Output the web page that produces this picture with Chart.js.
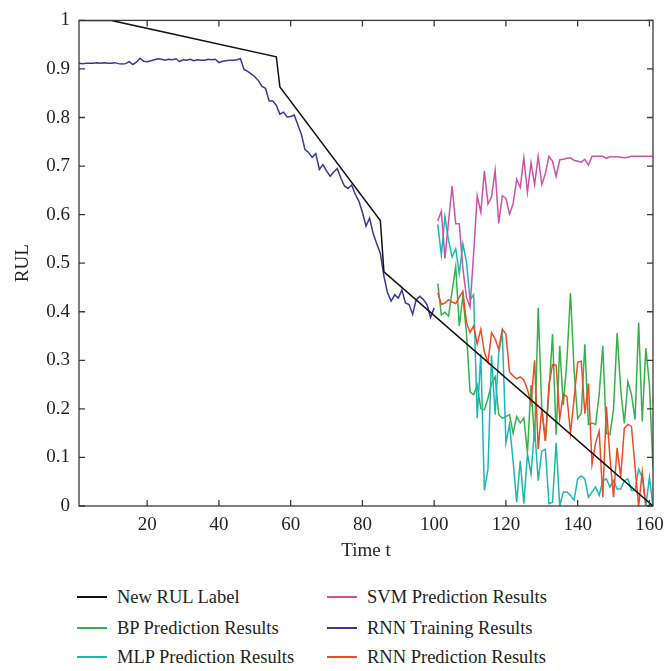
<!DOCTYPE html>
<html>
<head>
<meta charset="utf-8">
<script src="https://cdn.jsdelivr.net/npm/chart.js@4.4.1/dist/chart.umd.min.js"></script>
<style>
  html, body { margin: 0; padding: 0; background: #fff; }
  #wrap { position: relative; width: 665px; height: 671px; font-family: 'Liberation Serif', 'DejaVu Serif', serif; color: #231f20; }
  #chart { position: absolute; left: 0; top: 0; }
  .legend-item { position: absolute; display: flex; align-items: center; height: 22px; font-size: 18.5px; white-space: nowrap; }
  .legend-line { width: 30px; height: 0; border-top: 2px solid; margin-right: 10px; }
</style>
</head>
<body>
<div id="wrap">
  <canvas id="chart" width="665" height="578"></canvas>
  <div id="legend"></div>
</div>
<script>
const xTicks = [20, 40, 60, 80, 100, 120, 140, 160];

// new RUL label (piecewise linear vertices)
const labelT = [1, 10, 56, 57, 85, 86, 161];
const labelRul = [1, 1, 0.925, 0.863, 0.588, 0.482, 0];

// RNN training, t = 1..100
const trainStart = 1;
const rnnTrain = [
  0.912, 0.911, 0.912, 0.912, 0.912, 0.913, 0.912, 0.913, 0.912, 0.912,
  0.913, 0.911, 0.910, 0.911, 0.915, 0.909, 0.914, 0.922, 0.916, 0.915,
  0.917, 0.919, 0.921, 0.920, 0.918, 0.920, 0.919, 0.921, 0.915, 0.919,
  0.918, 0.920, 0.917, 0.919, 0.918, 0.918, 0.920, 0.919, 0.920, 0.913,
  0.916, 0.917, 0.918, 0.918, 0.919, 0.921, 0.899, 0.895, 0.890, 0.884,
  0.876, 0.864, 0.860, 0.834, 0.834, 0.825, 0.807, 0.811, 0.801, 0.802,
  0.805, 0.785, 0.765, 0.734, 0.728, 0.718, 0.726, 0.693, 0.703, 0.690,
  0.679, 0.688, 0.695, 0.675, 0.659, 0.654, 0.661, 0.642, 0.628, 0.605,
  0.576, 0.593, 0.561, 0.540, 0.520, 0.473, 0.439, 0.422, 0.435, 0.428,
  0.445, 0.418, 0.415, 0.395, 0.425, 0.432, 0.425, 0.415, 0.388, 0.408
];

// predictions, t = 101..161
const predStart = 101;
const svmPred = [
  0.587, 0.607, 0.510, 0.585, 0.659, 0.581, 0.581, 0.490, 0.430, 0.410,
  0.520, 0.639, 0.605, 0.690, 0.622, 0.637, 0.691, 0.582, 0.639, 0.634,
  0.601, 0.622, 0.673, 0.656, 0.717, 0.646, 0.707, 0.662, 0.720, 0.662,
  0.684, 0.720, 0.710, 0.679, 0.713, 0.714, 0.716, 0.717, 0.712, 0.710,
  0.708, 0.714, 0.702, 0.720, 0.720, 0.720, 0.720, 0.716, 0.719, 0.719,
  0.719, 0.718, 0.717, 0.718, 0.720, 0.720, 0.720, 0.720, 0.720, 0.720, 0.720
];
const bpPred = [
  0.458, 0.393, 0.399, 0.391, 0.442, 0.493, 0.371, 0.432, 0.357, 0.235,
  0.229, 0.249, 0.201, 0.198, 0.222, 0.252, 0.266, 0.188, 0.181, 0.184,
  0.188, 0.150, 0.184, 0.171, 0.181, 0.110, 0.249, 0.134, 0.408, 0.200,
  0.134, 0.235, 0.354, 0.147, 0.330, 0.208, 0.300, 0.439, 0.280, 0.180,
  0.191, 0.333, 0.168, 0.171, 0.168, 0.230, 0.330, 0.150, 0.147, 0.200,
  0.356, 0.240, 0.170, 0.256, 0.230, 0.178, 0.378, 0.174, 0.325, 0.250, 0.079
];
const mlpPred = [
  0.580, 0.517, 0.596, 0.547, 0.513, 0.530, 0.479, 0.540, 0.503, 0.425,
  0.435, 0.181, 0.313, 0.032, 0.076, 0.310, 0.188, 0.317, 0.357, 0.130,
  0.168, 0.093, 0.008, 0.093, 0.005, 0.107, 0.066, 0.160, 0.052, 0.113,
  0.117, 0.005, 0.008, 0.130, 0.000, 0.029, 0.029, 0.022, 0.012, 0.056,
  0.062, 0.056, 0.018, 0.029, 0.039, 0.022, 0.052, 0.056, 0.039, 0.052,
  0.035, 0.035, 0.052, 0.056, 0.032, 0.032, 0.076, 0.059, 0.000, 0.059, 0.000
];
const rnnPred = [
  0.439, 0.415, 0.418, 0.425, 0.420, 0.417, 0.430, 0.442, 0.378, 0.357,
  0.371, 0.334, 0.364, 0.317, 0.296, 0.357, 0.344, 0.323, 0.364, 0.354,
  0.276, 0.268, 0.262, 0.266, 0.259, 0.240, 0.212, 0.300, 0.117, 0.201,
  0.134, 0.250, 0.291, 0.290, 0.180, 0.230, 0.225, 0.150, 0.220, 0.296,
  0.298, 0.190, 0.252, 0.086, 0.130, 0.154, 0.018, 0.205, 0.100, 0.018,
  0.120, 0.060, 0.160, 0.168, 0.164, 0.080, 0.000, 0.070, 0.000, 0.000, 0.000
];

const FONT = { family: "'Liberation Serif', 'DejaVu Serif', serif", size: 19 };
const TEXT = '#231f20';

function series(start, values) {
  return values.map((v, i) => ({ x: start + i, y: v }));
}

const datasets = [
  { label: 'New RUL Label', data: labelT.map((t, i) => ({ x: t, y: labelRul[i] })), borderColor: '#111111', order: 0 },
  { label: 'SVM Prediction Results', data: series(predStart, svmPred), borderColor: '#cc52a8', order: 2 },
  { label: 'BP Prediction Results', data: series(predStart, bpPred), borderColor: '#34b24a', order: 5 },
  { label: 'RNN Training Results', data: series(trainStart, rnnTrain), borderColor: '#3b3596', order: 1 },
  { label: 'MLP Prediction Results', data: series(predStart, mlpPred), borderColor: '#1cb8b0', order: 4 },
  { label: 'RNN Prediction Results', data: series(predStart, rnnPred), borderColor: '#f04a24', order: 3 }
];
datasets.forEach(d => {
  d.borderWidth = 1.5;
  d.pointRadius = 0;
  d.tension = 0;
  d.fill = false;
});

// box frame with inward ticks, matlab style
const boxAxes = {
  id: 'boxAxes',
  afterDatasetsDraw(chart) {
    const { ctx, chartArea: a, scales: { x, y } } = chart;
    ctx.save();
    ctx.strokeStyle = '#3a3a3a';
    ctx.lineWidth = 1.3;
    ctx.strokeRect(a.left, a.top, a.right - a.left, a.bottom - a.top);
    ctx.beginPath();
    x.ticks.forEach(t => {
      const px = x.getPixelForValue(t.value);
      ctx.moveTo(px, a.bottom); ctx.lineTo(px, a.bottom - 6);
      ctx.moveTo(px, a.top); ctx.lineTo(px, a.top + 6);
    });
    y.ticks.forEach(t => {
      const py = y.getPixelForValue(t.value);
      ctx.moveTo(a.left, py); ctx.lineTo(a.left + 6, py);
      ctx.moveTo(a.right, py); ctx.lineTo(a.right - 6, py);
    });
    ctx.stroke();
    ctx.restore();
  }
};

const chart = new Chart(document.getElementById('chart'), {
  type: 'line',
  data: { datasets },
  options: {
    responsive: false,
    devicePixelRatio: 1,
    animation: false,
    layout: { padding: { top: 14, right: 12, bottom: 10, left: 0 } },
    plugins: { legend: { display: false }, tooltip: { enabled: false } },
    scales: {
      x: {
        type: 'linear',
        min: 1,
        max: 161,
        afterBuildTicks: s => { s.ticks = xTicks.map(v => ({ value: v })); },
        afterFit: s => { s.height = 62; s.paddingLeft = 0; s.paddingRight = 0; },
        grid: { display: false, drawTicks: false },
        border: { display: false },
        ticks: { font: FONT, color: TEXT, padding: 8, maxRotation: 0, autoSkip: false },
        title: { display: true, text: 'Time t', font: FONT, color: TEXT, padding: { top: 0, bottom: 6 } }
      },
      y: {
        min: 0,
        max: 1,
        afterFit: s => { s.width = 79; },
        grid: { display: false, drawTicks: false },
        border: { display: false },
        ticks: { stepSize: 0.1, font: FONT, color: TEXT, padding: 9, callback: v => String(Math.round(v * 10) / 10) },
        title: { display: true, text: 'RUL', font: FONT, color: TEXT, padding: { top: 12, bottom: 0 } }
      }
    }
  },
  plugins: [boxAxes]
});

// html legend, two columns like the original figure
const legendRows = [597, 628, 657];
const legendCols = [77, 327];
const legend = document.getElementById('legend');
chart.data.datasets.forEach((d, i) => {
  const item = document.createElement('div');
  item.className = 'legend-item';
  item.style.left = legendCols[i % 2] + 'px';
  item.style.top = (legendRows[Math.floor(i / 2)] - 11) + 'px';
  item.innerHTML = `<span class="legend-line" style="border-color:${d.borderColor}"></span><span>${d.label}</span>`;
  legend.appendChild(item);
});
</script>
</body>
</html>
